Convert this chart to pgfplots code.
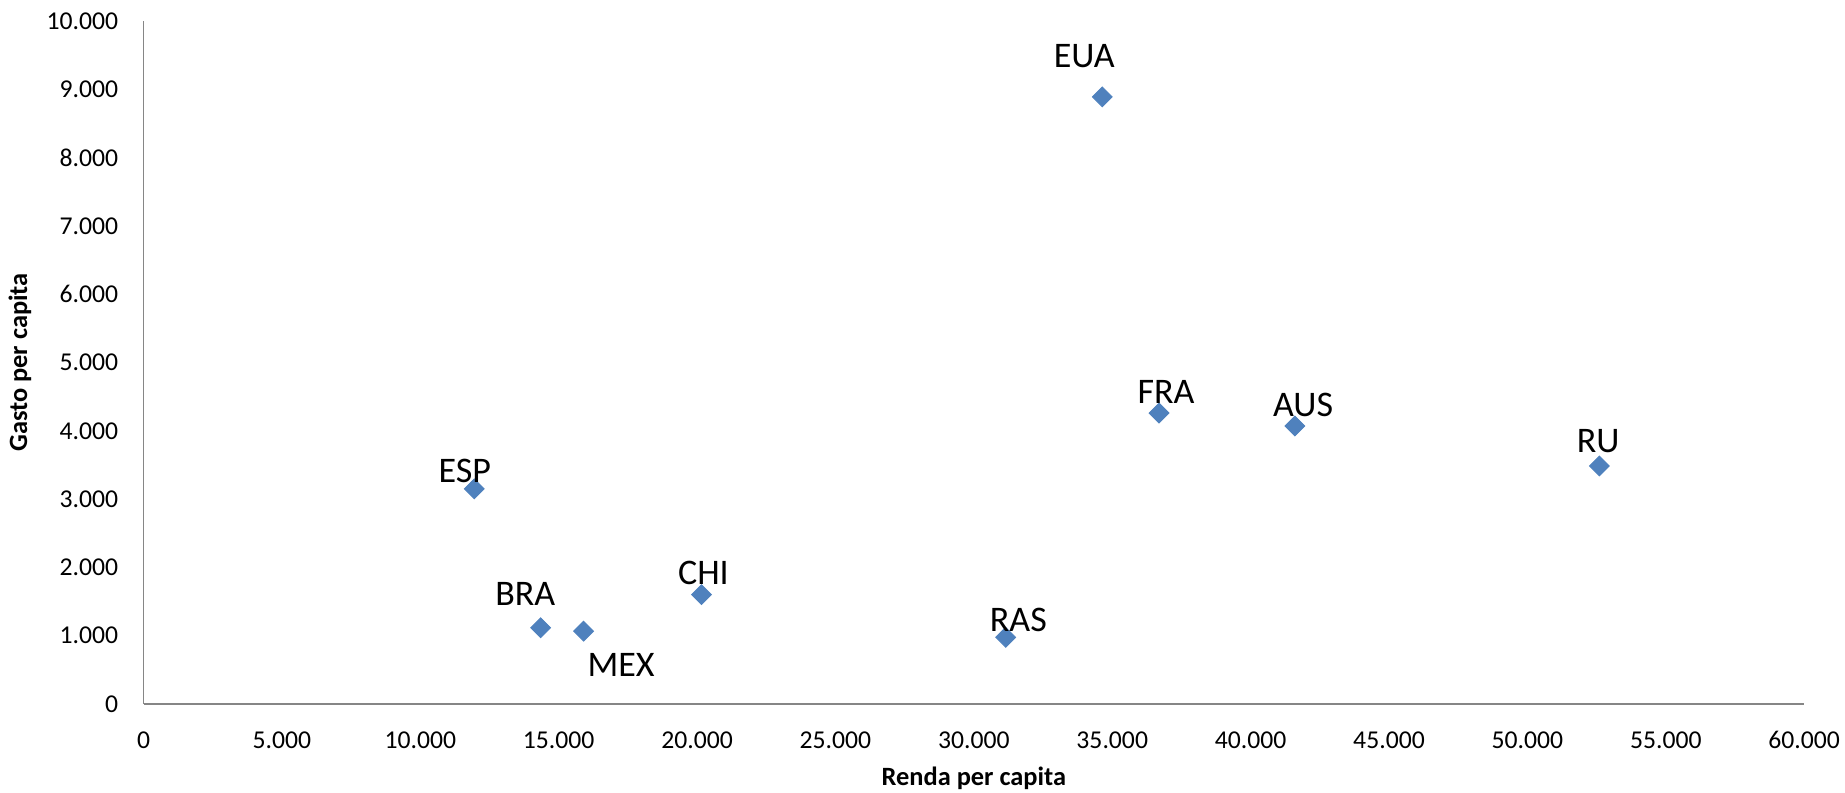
\documentclass[border=0pt]{standalone}
\usepackage{fontspec}
\setmainfont{Carlito}
\usepackage{pgfplots}
\usepackage{pgfplotstable}
\pgfplotsset{compat=1.18}

\definecolor{markblue}{HTML}{4F81BD}
\definecolor{axisgray}{HTML}{868686}

% country, income per capita, spending per capita, label offsets (pt)
\pgfplotstableread{
lbl  x      y     dx    dy
EUA  34640  8890  -7.5  17.2
FRA  36690  4260  2.9   8.8
AUS  41600  4070  3.4   8.8
RU   52600  3485  -0.5  10.3
ESP  11950  3150  -3.9  7.4
BRA  14350  1115  -6.4  14.0
MEX  15900  1065  15.6  -13.9
CHI  20160  1600  0.8   9.0
RAS  31150  975   5.3   7.4
}\datatable

\begin{document}
\begin{tikzpicture}
\begin{axis}[
  scale only axis,
  width=692pt, height=284.5pt,
  xmin=0, xmax=60000, ymin=0, ymax=10000,
  xtick={0,5000,...,60000},
  ytick={0,1000,...,10000},
  scaled ticks=false,
  /pgf/number format/1000 sep={.},
  /pgf/number format/assume math mode=true,
  tick label style={font=\fontsize{10.7}{12}\selectfont, text=black},
  xticklabel style={yshift=-8pt},
  yticklabel style={xshift=-7pt},
  major tick length=0pt,
  axis lines*=left,
  axis line style={draw=axisgray, line width=0.7pt},
  xlabel={Renda per capita},
  ylabel={Gasto per capita},
  label style={font=\fontsize{11}{13}\selectfont\bfseries},
  x label style={at={(axis description cs:0.5,-0.109)}, anchor=center},
  y label style={at={(axis description cs:-0.0744,0.5)}, anchor=center},
  clip=false,
]
\addplot[
  only marks,
  mark=square*,
  mark size=2.9pt,
  mark options={rotate=45, fill=markblue, draw=markblue},
  nodes near coords,
  point meta=explicit symbolic,
  visualization depends on={\thisrow{dx}\as\dx},
  visualization depends on={\thisrow{dy}\as\dy},
  every node near coord/.append style={
    anchor=center, inner sep=0pt,
    xshift=\dx*1pt, yshift=\dy*1pt,
    font=\fontsize{15}{18}\selectfont, text=black},
] table[x=x, y=y, meta=lbl] {\datatable};
\end{axis}
\pgfresetboundingbox
\path[use as bounding box] (-59.8pt,-36.8pt) rectangle (709pt,293.3pt);
\end{tikzpicture}
\end{document}
